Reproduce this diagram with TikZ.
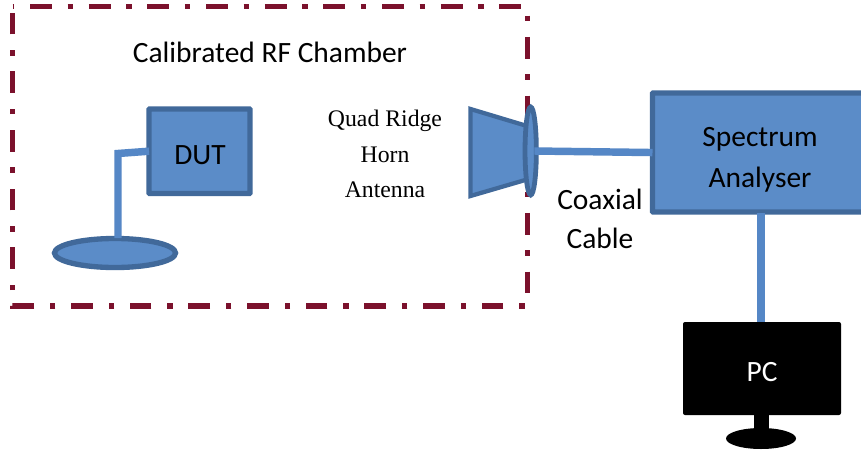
\documentclass[tikz,border=0pt]{standalone}
\usepackage{fontspec}
\setmainfont{Carlito}
\newfontfamily\serifface{Liberation Serif}
\usetikzlibrary{shapes.geometric}
\definecolor{chamber}{HTML}{7B112C}
\definecolor{bluefill}{HTML}{5B8CC8}
\definecolor{blueedge}{HTML}{41699A}
\definecolor{bluewire}{HTML}{5587C6}
\tikzset{
  px/.style={x=0.75pt,y=-0.75pt},
  chamberframe/.style={draw=chamber,line width=4pt,line join=miter,
    dash pattern=on 16.3pt off 11.8pt on 4.1pt off 11.8pt,dash phase=30.8pt},
  box/.style={draw=blueedge,fill=bluefill,line width=4pt,inner sep=0pt,outer sep=0pt,rounded corners=0.5pt},
  disc/.style={ellipse,draw=blueedge,fill=bluefill,line width=4pt,inner sep=0pt,outer sep=0pt},
  wire/.style={draw=bluewire,line width=5.6pt},
  label/.style={font=\fontsize{22.1pt}{26pt}\selectfont,text=black,inner sep=0pt},
  serifel/.style={font=\serifface\fontsize{17.8pt}{21pt}\selectfont,text=black,inner sep=0pt},
}
\begin{document}
\begin{tikzpicture}[px]
\useasboundingbox (0,0) rectangle (861,450);
\clip (0,0) rectangle (861,450);
\fill[white] (0,0) rectangle (861,450);
% chamber frame
\draw[chamberframe] (12.5,6.5) -- (527.7,6.5) -- (527.7,306) -- (12.5,306) -- cycle;
\node[label] (chambertitle) at (270,52) {Calibrated RF Chamber};
% DUT
\node[box,minimum width=75.75pt,minimum height=63.4pt] (dut) at (199.5,151.2) {};
\node[label] (dutlabel) at (200,155) {DUT};
\node[disc,minimum width=90.75pt,minimum height=21.75pt] (dutant) at (115,253) {};
\coordinate (elbow) at (118,153.5);
\coordinate (dutanttop) at (118,238);
\draw[wire,line join=miter] (dut.west) -- (elbow) -- (dutanttop);
% horn
\coordinate (hornA) at (470.5,109);
\coordinate (hornB) at (527,126);
\coordinate (hornC) at (527,179.5);
\coordinate (hornD) at (470.5,196);
\draw[draw=blueedge,fill=bluefill,line width=3.2pt,line join=miter] (hornA) -- (hornB) -- (hornC) -- (hornD) -- cycle;
\node[disc,line width=3.6pt,minimum width=8.5pt,minimum height=66pt] (feed) at (530.7,151) {};
\node[serifel] (hornl1) at (385,121) {Quad Ridge};
\node[serifel] (hornl2) at (385,155) {Horn};
\node[serifel] (hornl3) at (385,189.5) {Antenna};
% spectrum analyser
\node[box,anchor=north west,minimum width=200pt,minimum height=89.3pt] (sa) at (652.5,93) {};
\node[label] (sal1) at (760,139.5) {Spectrum};
\node[label] (sal2) at (760,179.5) {Analyser};
\draw[wire] (feed.east) ++(-2,0) coordinate (coaxstart) -- (sa.west);
\node[label] (coax1) at (600,199.5) {Coaxial};
\node[label] (coax2) at (600,238) {Cable};
% PC
\node[fill=black,rounded corners=1.5pt,minimum width=118.5pt,minimum height=69.75pt,inner sep=0pt,outer sep=0pt] (pc) at (762,368.5) {};
\node[label,text=white] (pclabel) at (762,372.5) {PC};
\coordinate (satap) at (761,213);
\coordinate (pctop) at (761,322);
\draw[wire] (satap) -- (pctop);
\node[fill=black,minimum width=11.25pt,minimum height=15pt,inner sep=0pt,outer sep=0pt] (stand) at (761.5,422) {};
\node[ellipse,fill=black,minimum width=52.5pt,minimum height=15.75pt,inner sep=0pt,outer sep=0pt] (base) at (761,438.5) {};
\end{tikzpicture}
\end{document}
